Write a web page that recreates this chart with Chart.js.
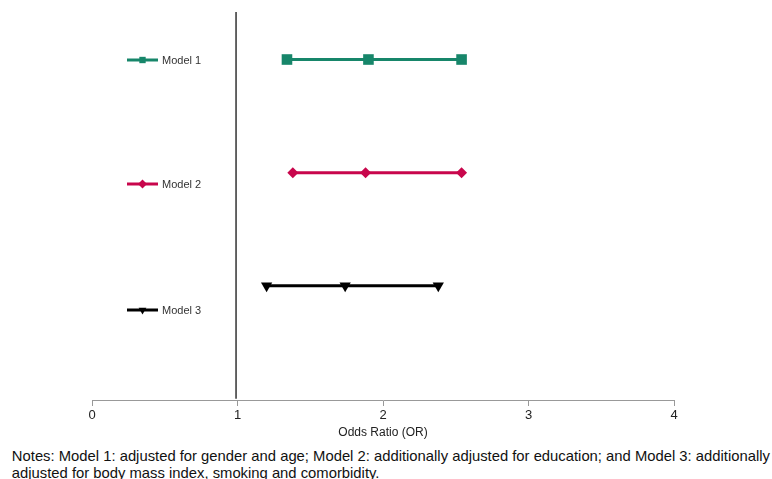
<!DOCTYPE html>
<html><head><meta charset="utf-8">
<script src="https://cdn.jsdelivr.net/npm/chart.js@4"></script>
<style>
html,body{margin:0;padding:0;background:#fff;overflow:hidden;}
#wrap{position:relative;width:772px;height:442px;}
#notes{font-family:"Liberation Sans Narrow","Liberation Sans",Arial,sans-serif;font-size:15px;color:#111;line-height:17px;padding:5px 0 0 12px;white-space:nowrap;transform-origin:0 0;transform:scaleX(0.987);}
</style></head>
<body>
<div id="wrap"><canvas id="c" width="772" height="442"></canvas></div>
<div id="notes">Notes: Model 1: adjusted for gender and age; Model 2: additionally adjusted for education; and Model 3: additionally<br>adjusted for body mass index, smoking and comorbidity.</div>
<script>
const models = ["Model 1", "Model 2", "Model 3"];
const orLow = [1.34, 1.38, 1.20];
const orPoint = [1.90, 1.88, 1.74];
const orHigh = [2.54, 2.54, 2.38];
const rowPos = [3, 2, 1];
const xTicks = [0, 1, 2, 3, 4];
const refLine = 0.99;
const colors = ["#17866a", "#c8064c", "#000000"];
const shapes = ["rect", "rectRot", "triangle"];
const rotations = [0, 0, 180];
const radii = [7.5, 5.5, 6.5];

const datasets = models.map((m, i) => ({
  label: m,
  data: [orLow[i], orPoint[i], orHigh[i]].map(v => ({x: v, y: rowPos[i]})),
  showLine: true,
  borderColor: colors[i],
  backgroundColor: colors[i],
  borderWidth: 3,
  pointStyle: shapes[i],
  pointRotation: rotations[i],
  pointRadius: radii[i],
  pointHoverRadius: radii[i],
  pointBorderWidth: 0
}));
datasets.push({
  label: "ref",
  data: [{x: refLine, y: 3.42}, {x: refLine, y: 0.0}],
  showLine: true,
  borderColor: "#333",
  borderWidth: 1.5,
  pointRadius: 0
});

const legendPos = [60, 184, 310];
const sideLegend = {
  id: "sideLegend",
  afterDraw(chart) {
    const ctx = chart.ctx;
    ctx.save();
    models.forEach((m, i) => {
      const y = legendPos[i];
      ctx.strokeStyle = colors[i];
      ctx.fillStyle = colors[i];
      ctx.lineWidth = 3;
      ctx.beginPath(); ctx.moveTo(127, y); ctx.lineTo(158, y); ctx.stroke();
      Chart.helpers.drawPoint(ctx, {pointStyle: shapes[i], rotation: rotations[i], radius: 4.5, borderWidth: 0}, 142.5, y);
      ctx.fillStyle = "#333";
      ctx.font = '11px "Liberation Sans Narrow","Liberation Sans",Arial,sans-serif';
      ctx.textBaseline = "middle";
      ctx.fillText(m, 162, y + 0.5);
    });
    ctx.restore();
  }
};

new Chart(document.getElementById("c"), {
  type: "scatter",
  data: {datasets},
  options: {
    responsive: false,
    animation: false,
    layout: {padding: {left: 92, right: 98, top: 12, bottom: 2}},
    plugins: {legend: {display: false}, tooltip: {enabled: false}},
    scales: {
      x: {
        type: "linear", min: 0, max: 4,
        afterBuildTicks: ax => { ax.ticks = xTicks.map(v => ({value: v})); },
        grid: {drawOnChartArea: false, drawTicks: true, tickLength: 6, color: "#999"},
        border: {color: "#999", width: 1},
        ticks: {color: "#222", font: {size: 13, family: '"Liberation Sans", Arial, sans-serif'}, padding: 2},
        title: {display: true, text: "Odds Ratio (OR)", color: "#222", padding: {top: 0, bottom: 0},
          font: {size: 12, family: '"Liberation Sans Narrow","Liberation Sans",Arial,sans-serif'}}
      },
      y: {type: "linear", min: -0.01, max: 3.42, display: false}
    }
  },
  plugins: [sideLegend]
});
</script>
</body></html>
